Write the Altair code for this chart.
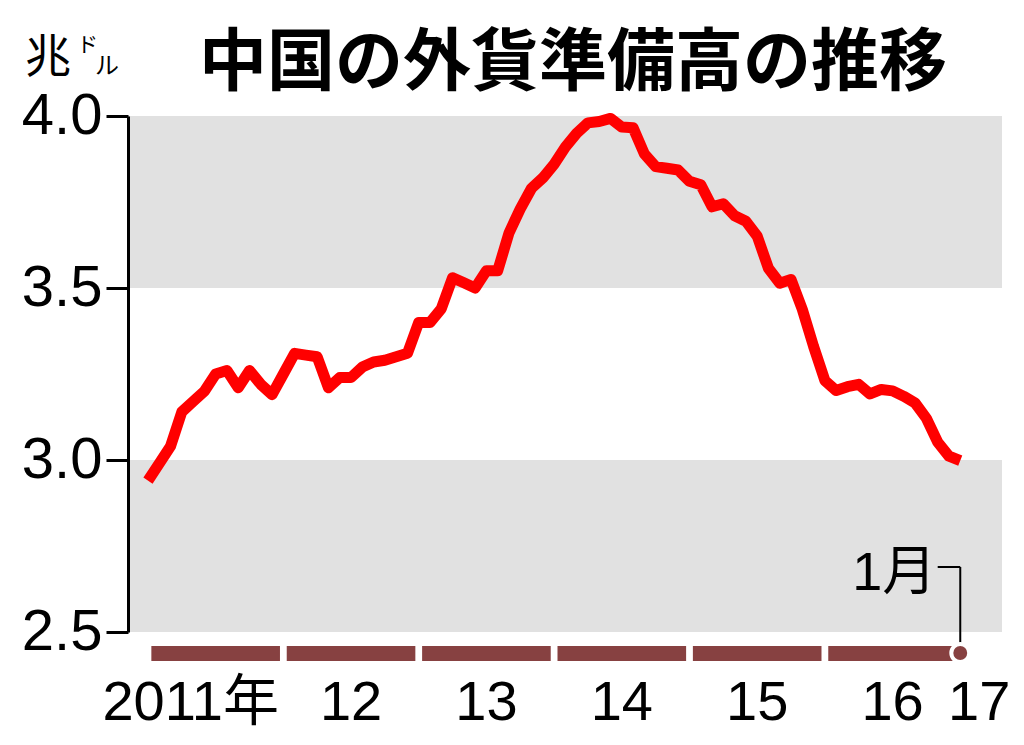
import altair as alt
import pandas as pd

# Monthly foreign reserves of China (trillion USD), Jan 2011 - Jan 2017
values = [
    2.94, 2.99, 3.04, 3.14, 3.17, 3.20, 3.25, 3.26, 3.21, 3.26, 3.22, 3.19,   # 2011
    3.25, 3.31, 3.305, 3.30, 3.21, 3.24, 3.24, 3.27, 3.285, 3.29, 3.30, 3.31, # 2012
    3.40, 3.40, 3.44, 3.53, 3.515, 3.50, 3.55, 3.55, 3.66, 3.73, 3.79, 3.82,  # 2013
    3.86, 3.91, 3.95, 3.98, 3.984, 3.993, 3.968, 3.966, 3.89, 3.853, 3.848, 3.843,  # 2014
    3.81, 3.80, 3.736, 3.745, 3.71, 3.694, 3.651, 3.557, 3.514, 3.525, 3.438, 3.33,  # 2015
    3.231, 3.202, 3.213, 3.22, 3.192, 3.205, 3.201, 3.185, 3.166, 3.121, 3.052, 3.011,  # 2016
    2.998,  # 2017 Jan
]
years = [2011, 2012, 2013, 2014, 2015, 2016]
year_labels = ["2011年", "12", "13", "14", "15", "16"]
band_lo = [2.5, 3.5]
band_hi = [3.0, 4.0]
y_ticks = [2.5, 3.0, 3.5, 4.0]

title_text = "中国の外貨準備高の推移"
unit_main = "兆"
last_label = "1月"

NUM_FONT = "Liberation Sans, Noto Sans CJK JP, sans-serif"
CJK_FONT = "Noto Sans CJK JP"

W, H = 874, 516
XDOM = [-1.77, 75.7]

line_df = pd.DataFrame({"m": list(range(len(values))), "v": values})
band_df = pd.DataFrame({"lo": band_lo, "hi": band_hi})
bar_df = pd.DataFrame({
    "start": [12 * i + 0.3 for i in range(len(years))],
    "end": [12 * i + 11.7 for i in range(len(years))],
})
lab_df = pd.DataFrame({"m": [12 * i + 6 for i in range(1, len(years))],
                       "t": year_labels[1:]})
first_df = pd.DataFrame({"m": [6], "t": [year_labels[0]]})
last_df = pd.DataFrame({"m": [len(values) - 1], "t": ["17"]})
end_df = pd.DataFrame({"m": [len(values) - 1], "m0": [len(values) - 3], "t": [last_label]})

xs = alt.Scale(domain=XDOM, nice=False, zero=False)
ys = alt.Scale(domain=[2.5, 4.0], nice=False, zero=False)

yaxis = alt.Axis(values=y_ticks, format=".1f", title=None, grid=False, zindex=1)

bands = alt.Chart(band_df).mark_rect(color="#e1e1e1").encode(
    x=alt.value(0), x2=alt.value(W),
    y=alt.Y("lo:Q", scale=ys, axis=yaxis),
    y2="hi:Q",
)

line = alt.Chart(line_df).mark_line(color="#ff0000", strokeWidth=11,
                                    strokeJoin="round", strokeCap="butt").encode(
    x=alt.X("m:Q", scale=xs, axis=None),
    y=alt.Y("v:Q", scale=ys, axis=yaxis),
)

bars = alt.Chart(bar_df).mark_rect(color="#874141").encode(
    x=alt.X("start:Q", scale=xs, axis=None), x2="end:Q",
    y=alt.value(530), y2=alt.value(545),
)

leader_v = alt.Chart(end_df).mark_rule(color="black", strokeWidth=2).encode(
    x=alt.X("m:Q", scale=xs), y=alt.value(451), y2=alt.value(537))
leader_h = alt.Chart(end_df).mark_rule(color="black", strokeWidth=2).encode(
    x=alt.X("m0:Q", scale=xs), x2="m:Q", y=alt.value(451))

dot = alt.Chart(end_df).mark_point(filled=True, fill="#874141", stroke="white",
                                   strokeWidth=4, size=320, opacity=1).encode(
    x=alt.X("m:Q", scale=xs), y=alt.value(537))

end_text = alt.Chart(end_df).mark_text(font=NUM_FONT, fontSize=54, align="right",
                                       baseline="alphabetic", dx=-24, color="black").encode(
    x=alt.X("m:Q", scale=xs), y=alt.value(474), text="t:N")

xlabels = alt.Chart(lab_df).mark_text(font=NUM_FONT, fontSize=56, align="center",
                                      baseline="alphabetic", color="black").encode(
    x=alt.X("m:Q", scale=xs), y=alt.value(604), text="t:N")
xfirst = alt.Chart(first_df).mark_text(font=NUM_FONT, fontSize=56, align="center",
                                       baseline="alphabetic", dx=-25, color="black").encode(
    x=alt.X("m:Q", scale=xs), y=alt.value(604), text="t:N")
xlast = alt.Chart(last_df).mark_text(font=NUM_FONT, fontSize=56, align="center",
                                     baseline="alphabetic", dx=19, color="black").encode(
    x=alt.X("m:Q", scale=xs), y=alt.value(604), text="t:N")

title = alt.Chart(pd.DataFrame({"t": [title_text]})).mark_text(
    font=CJK_FONT, fontSize=68, fontWeight="bold", align="center",
    baseline="alphabetic", color="black").encode(
    x=alt.value(445), y=alt.value(-31), text="t:N")

unit1 = alt.Chart(pd.DataFrame({"t": [unit_main]})).mark_text(
    font=CJK_FONT, fontSize=46, align="left", baseline="alphabetic", color="black").encode(
    x=alt.value(-103), y=alt.value(-44), text="t:N")
unit2 = alt.Chart(pd.DataFrame({"t": ["ド"]})).mark_text(
    font=CJK_FONT, fontSize=21, align="left", baseline="alphabetic", color="black").encode(
    x=alt.value(-51), y=alt.value(-64), text="t:N")
unit3 = alt.Chart(pd.DataFrame({"t": ["ル"]})).mark_text(
    font=CJK_FONT, fontSize=24, align="left", baseline="alphabetic", color="black").encode(
    x=alt.value(-33), y=alt.value(-42), text="t:N")

chart = alt.layer(
    bands, line, bars, leader_h, leader_v, dot, end_text,
    xlabels, xfirst, xlast, title, unit1, unit2, unit3,
).properties(
    width=W, height=H, autosize="none",
    padding={"left": 120, "top": 108, "right": 14, "bottom": 104},
).configure_view(stroke=None).configure_axisY(
    labelFont=NUM_FONT, labelFontSize=58, labelColor="black",
    labelPadding=4, tickSize=22, tickWidth=3, tickColor="black",
    domainWidth=3, domainColor="black",
)

chart.save("out.html", embed_options={"renderer": "svg", "actions": False})
